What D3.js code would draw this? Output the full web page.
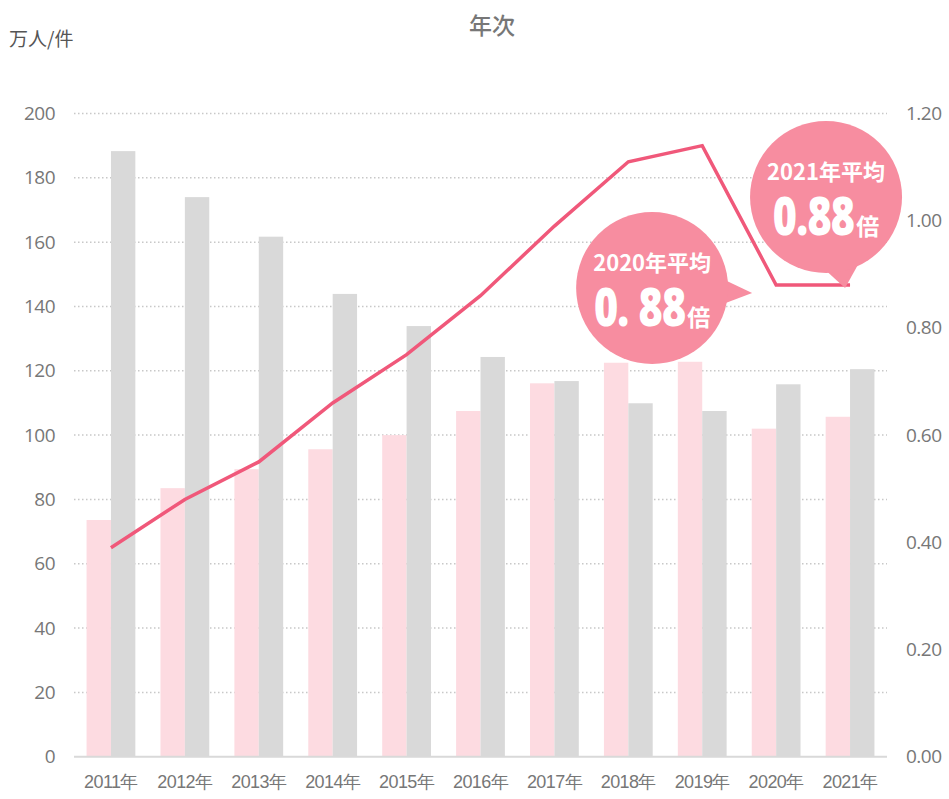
<!DOCTYPE html>
<html>
<head>
<meta charset="utf-8">
<script src="https://cdn.jsdelivr.net/npm/d3@7"></script>
<style>
	body { margin: 0; background: white; }
	svg { display: block; font-family: "Open Sans", "Noto Sans CJK JP", sans-serif; }
</style>
</head>
<body>
<div id="vizContainer"></div>
<script>
let w = 949;
let h = 799;

// data
let years = ["2011年", "2012年", "2013年", "2014年", "2015年", "2016年", "2017年", "2018年", "2019年", "2020年", "2021年"];
let jobOffers = [73.6, 83.5, 89.4, 95.6, 100.0, 107.5, 116.1, 122.5, 122.8, 102.0, 105.7];
let applicants = [188.3, 174.0, 161.7, 143.9, 133.9, 124.3, 116.8, 109.9, 107.5, 115.8, 120.5];
let ratios = [0.39, 0.48, 0.55, 0.66, 0.75, 0.86, 0.99, 1.11, 1.14, 0.88, 0.88];
let leftTicks = [0, 20, 40, 60, 80, 100, 120, 140, 160, 180, 200];
let rightTicks = [0, 0.2, 0.4, 0.6, 0.8, 1.0, 1.2];
let callouts = [
	{ year: "2020年", title: "2020年平均", value: "0. 88", unit: "倍" },
	{ year: "2021年", title: "2021年平均", value: "0.88", unit: "倍" }
];

let plotL = 74, plotR = 887, plotT = 113.5, plotB = 756.7;

let viz = d3.select("#vizContainer").append("svg")
	.attr("width", w)
	.attr("height", h)
	.style("background-color", "white");

let xScale = d3.scaleBand().domain(years).range([plotL, plotR]).paddingInner(0.34).paddingOuter(0.17);
let yScale = d3.scaleLinear().domain([0, 200]).range([plotB, plotT]);
let rScale = d3.scaleLinear().domain([0, 1.2]).range([plotB, plotT]);
let barW = xScale.bandwidth() / 2;

// title and unit
viz.append("text").attr("x", 492).attr("y", 34).attr("text-anchor", "middle")
	.attr("font-family", "Noto Sans CJK JP")
	.attr("font-size", 23).attr("font-weight", 500).attr("fill", "#777").text("年次");
viz.append("text").attr("x", 9).attr("y", 46)
	.attr("font-family", "Noto Sans CJK JP")
	.attr("font-size", 19).attr("fill", "#555").text("万人/件");

// gridlines
viz.append("g").selectAll("line").data(leftTicks.filter(d => d > 0)).enter().append("line")
	.attr("x1", plotL).attr("x2", plotR)
	.attr("y1", d => yScale(d)).attr("y2", d => yScale(d))
	.attr("stroke", "#c8c8c8").attr("stroke-width", 1.5).attr("stroke-dasharray", "1.5,2.5");

// left axis
let leftAxis = viz.append("g").attr("transform", "translate(55,0)")
	.call(d3.axisLeft(yScale).tickValues(leftTicks).tickSize(0).tickPadding(0));
leftAxis.select(".domain").remove();
leftAxis.selectAll("text").attr("font-size", 19).attr("fill", "#777")
	.attr("font-family", "Open Sans").attr("letter-spacing", -0.5);

// right axis
let rightAxis = viz.append("g").attr("transform", "translate(906,0)")
	.call(d3.axisRight(rScale).tickValues(rightTicks).tickFormat(d3.format(".2f")).tickSize(0).tickPadding(0));
rightAxis.select(".domain").remove();
rightAxis.selectAll("text").attr("font-size", 19).attr("fill", "#777")
	.attr("font-family", "Open Sans").attr("letter-spacing", -0.5);

// bars
let barGroup = viz.append("g");
barGroup.selectAll(".pink").data(jobOffers).enter().append("rect")
	.attr("class", "pink")
	.attr("x", (d, i) => xScale(years[i]))
	.attr("y", d => yScale(d))
	.attr("width", barW)
	.attr("height", d => plotB - yScale(d))
	.attr("fill", "#fddbe1");
barGroup.selectAll(".gray").data(applicants).enter().append("rect")
	.attr("class", "gray")
	.attr("x", (d, i) => xScale(years[i]) + barW)
	.attr("y", d => yScale(d))
	.attr("width", barW)
	.attr("height", d => plotB - yScale(d))
	.attr("fill", "#d9d9d9");

// baseline
viz.append("line").attr("x1", plotL).attr("x2", plotR).attr("y1", plotB).attr("y2", plotB)
	.attr("stroke", "#d9d9d9").attr("stroke-width", 2);

// x axis labels
let xAxis = viz.append("g").attr("transform", "translate(0," + 775 + ")")
	.call(d3.axisBottom(xScale).tickSize(0).tickPadding(0));
xAxis.select(".domain").remove();
xAxis.selectAll("text").attr("font-size", 18).attr("fill", "#777")
	.attr("letter-spacing", -0.6).attr("dy", "0.71em");

// ratio line
let cx = d => xScale(d) + xScale.bandwidth() / 2;
let line = d3.line().x((d, i) => cx(years[i])).y(d => rScale(d));
viz.append("path").datum(ratios)
	.attr("d", line)
	.attr("fill", "none")
	.attr("stroke", "#f0587a")
	.attr("stroke-width", 3.5)
	.attr("stroke-linejoin", "miter");

// callouts
let bubbleColor = "#f78da0";
let numSquash = 0.78;
function drawBubble(c, bx, by, tail) {
	let g = viz.append("g");
	g.append("path").attr("d", tail).attr("fill", bubbleColor);
	g.append("circle").attr("cx", bx).attr("cy", by).attr("r", 76).attr("fill", bubbleColor);
	g.append("text").attr("x", bx).attr("y", by - 17).attr("text-anchor", "middle")
		.attr("font-size", 22).attr("font-weight", 700).attr("fill", "white")
		.attr("font-family", "Noto Sans CJK JP").text(c.title);
	let num = g.append("text")
		.attr("font-size", 53).attr("font-weight", 800).attr("fill", "white")
		.attr("font-family", "Open Sans").attr("letter-spacing", -1).text(c.value);
	let unit = g.append("text")
		.attr("font-size", 23).attr("font-weight", 700).attr("fill", "white")
		.attr("font-family", "Noto Sans CJK JP").text(c.unit);
	let w1 = num.node().getComputedTextLength() * numSquash;
	let w2 = unit.node().getComputedTextLength();
	let x0 = bx - (w1 + w2 + 2) / 2;
	num.attr("transform", "translate(" + x0 + "," + (by + 38) + ") scale(" + numSquash + ",1)");
	unit.attr("x", x0 + w1 + 2).attr("y", by + 38);
}

let c20 = callouts[0], c21 = callouts[1];
let x20 = cx(c20.year), x21 = cx(c21.year);
let r20 = rScale(ratios[years.indexOf(c20.year)]);
let r21 = rScale(ratios[years.indexOf(c21.year)]);
// 2020 bubble sits left of the point, tail to the right
let b20x = x20 - 124, b20y = r20 + 3;
drawBubble(c20, b20x, b20y,
	"M" + (b20x + 60) + "," + (b20y - 14) + " L" + (x20 - 24) + "," + (b20y + 5) + " L" + (b20x + 55) + "," + (b20y + 22) + " Z");
// 2021 bubble sits above the point, tail down
let b21x = x21 - 24, b21y = r21 - 88;
drawBubble(c21, b21x, b21y,
	"M" + (b21x - 4) + "," + (b21y + 70) + " L" + (x21 - 5) + "," + (r21 + 3) + " L" + (b21x + 34) + "," + (b21y + 64) + " Z");
</script>
</body>
</html>
